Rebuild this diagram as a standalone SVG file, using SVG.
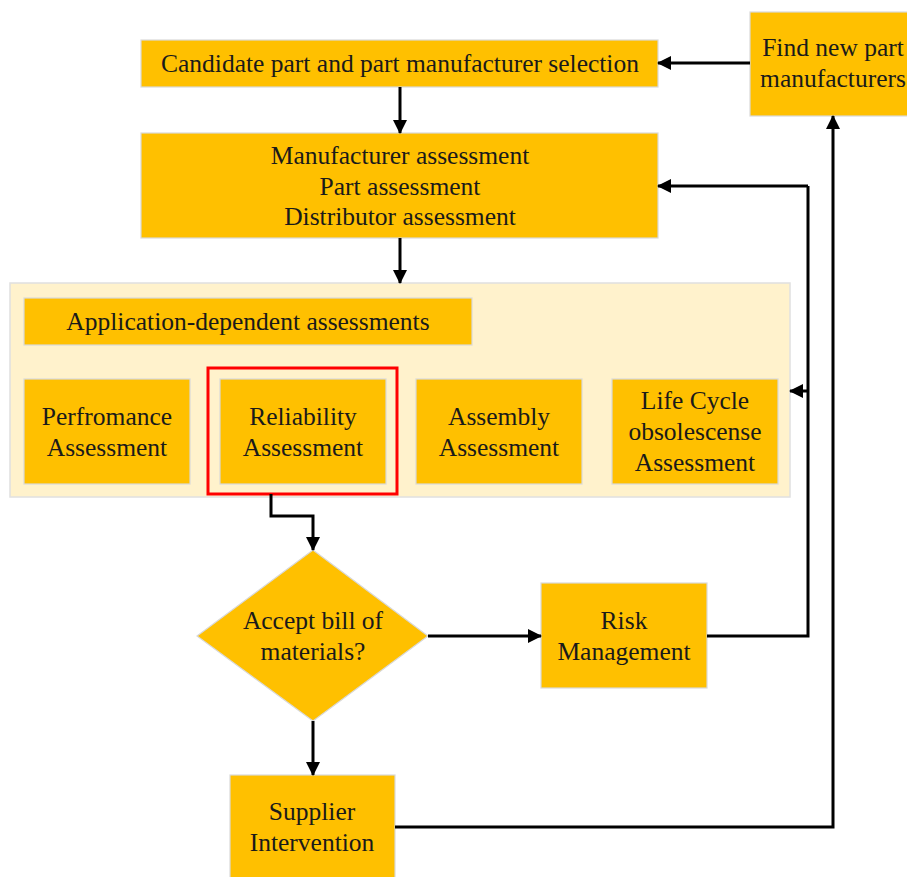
<svg xmlns="http://www.w3.org/2000/svg" width="907" height="877" viewBox="0 0 907 877">
  <defs>
    <marker id="arrow" markerWidth="14" markerHeight="14" refX="13" refY="7" orient="auto" markerUnits="userSpaceOnUse" viewBox="0 0 14 14">
      <path d="M0,0 L14,7 L0,14 z" fill="#000"/>
    </marker>
    <style>
      .box { fill: #FFC000; stroke: #D9D9D9; stroke-width: 1.2; }
      .panel { fill: #FFF2CC; stroke: #E0E0E0; stroke-width: 1.5; }
      .hl { fill: none; stroke: #FF0000; stroke-width: 3; }
      .lbl { font-family: "Liberation Serif", "Times New Roman", serif; font-size: 25.5px; fill: #1a1a1a; text-anchor: middle; }
      .wire { fill: none; stroke: #000; stroke-width: 3; }
      .wire-a { fill: none; stroke: #000; stroke-width: 3; marker-end: url(#arrow); }
    </style>
  </defs>
  <rect width="907" height="877" fill="#fff"/>

  <!-- application-dependent assessments panel -->
  <g id="app-panel">
    <rect class="panel" x="10" y="283" width="780" height="214"/>
  </g>

  <g id="candidate">
    <rect class="box" x="141" y="40" width="517" height="47"/>
    <text class="lbl" x="400" y="72">Candidate part and part manufacturer selection</text>
  </g>

  <g id="find-new">
    <rect class="box" x="750" y="12" width="166" height="104"/>
    <text class="lbl" x="833" y="56">Find new part</text>
    <text class="lbl" x="833" y="87">manufacturers</text>
  </g>

  <g id="assessments">
    <rect class="box" x="141" y="133" width="517" height="105"/>
    <text class="lbl" x="400" y="164">Manufacturer assessment</text>
    <text class="lbl" x="400" y="195">Part assessment</text>
    <text class="lbl" x="400" y="225">Distributor assessment</text>
  </g>

  <g id="app-header">
    <rect class="box" x="24" y="298" width="448" height="47"/>
    <text class="lbl" x="248" y="330">Application-dependent assessments</text>
  </g>

  <g id="performance">
    <rect class="box" x="24" y="379" width="166" height="105"/>
    <text class="lbl" x="107" y="425">Perfromance</text>
    <text class="lbl" x="107" y="456">Assessment</text>
  </g>

  <g id="reliability">
    <rect class="box" x="220" y="379" width="166" height="105"/>
    <rect class="hl" x="208" y="368" width="189" height="126"/>
    <text class="lbl" x="303" y="425">Reliability</text>
    <text class="lbl" x="303" y="456">Assessment</text>
  </g>

  <g id="assembly">
    <rect class="box" x="416" y="379" width="166" height="105"/>
    <text class="lbl" x="499" y="425">Assembly</text>
    <text class="lbl" x="499" y="456">Assessment</text>
  </g>

  <g id="lifecycle">
    <rect class="box" x="612" y="379" width="166" height="105"/>
    <text class="lbl" x="695" y="409">Life Cycle</text>
    <text class="lbl" x="695" y="440">obsolescense</text>
    <text class="lbl" x="695" y="471">Assessment</text>
  </g>

  <g id="decision">
    <polygon class="box" points="313,550 428,636 313,721 197,636"/>
    <text class="lbl" x="313" y="629">Accept bill of</text>
    <text class="lbl" x="313" y="660">materials?</text>
  </g>

  <g id="risk">
    <rect class="box" x="541" y="583" width="166" height="105"/>
    <text class="lbl" x="624" y="629">Risk</text>
    <text class="lbl" x="624" y="660">Management</text>
  </g>

  <g id="supplier">
    <rect class="box" x="230" y="775" width="165" height="110"/>
    <text class="lbl" x="312" y="820">Supplier</text>
    <text class="lbl" x="312" y="851">Intervention</text>
  </g>

  <g id="connectors">
    <path class="wire-a" d="M750,63 H658"/>
    <path class="wire-a" d="M400,87 V133"/>
    <path class="wire-a" d="M400,238 V283"/>
    <path class="wire-a" d="M271,494 V516 H313 V550"/>
    <path class="wire-a" d="M428,636 H541"/>
    <path class="wire-a" d="M313,721 V775"/>
    <path class="wire" d="M707,636 H808 V186"/>
    <path class="wire-a" d="M808,186 H658"/>
    <path class="wire-a" d="M808,391 H790"/>
    <path class="wire-a" d="M395,827 H833 V116"/>
  </g>
</svg>
